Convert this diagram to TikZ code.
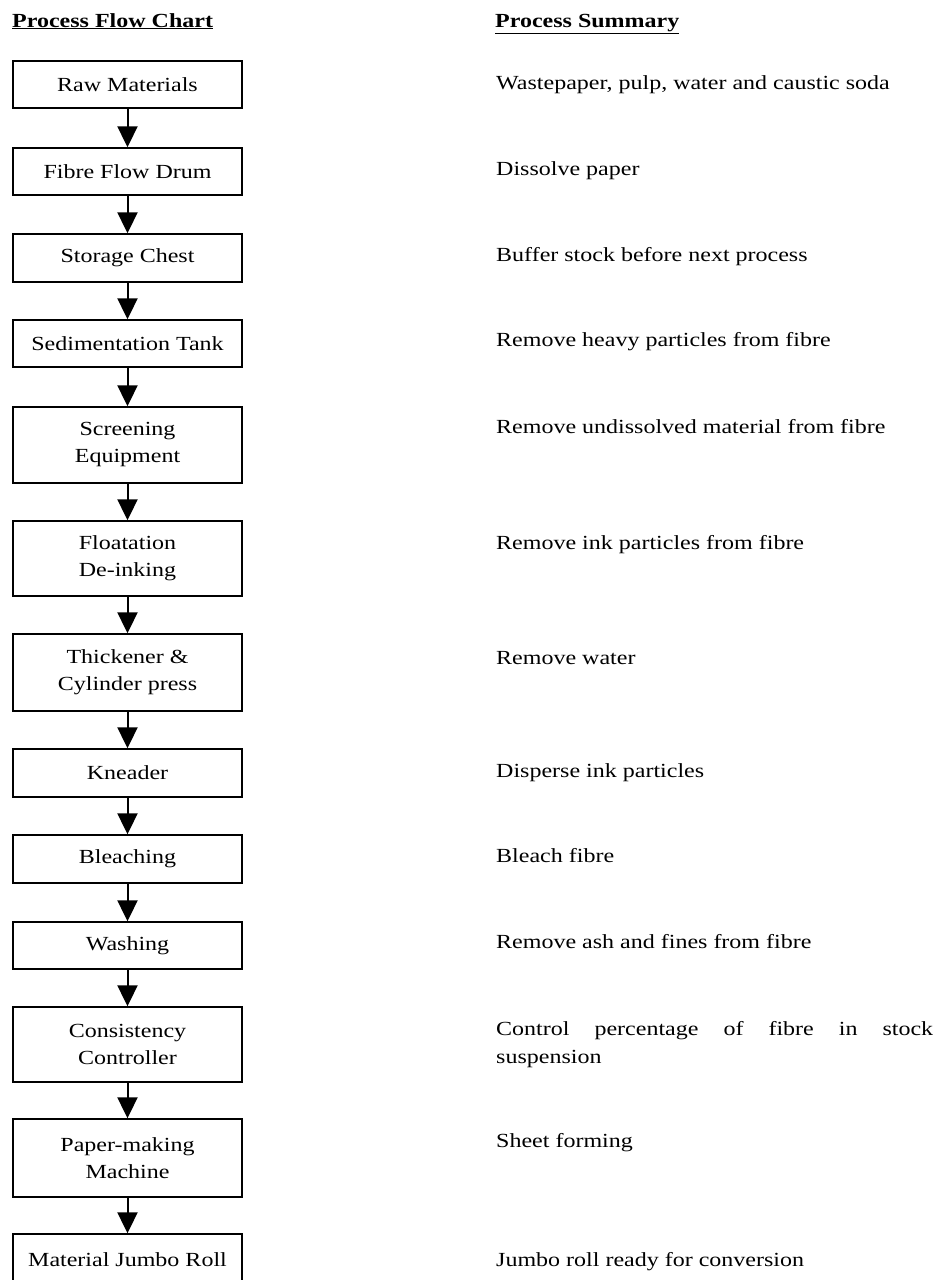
\documentclass[tikz,border=0pt]{standalone}
\usepackage{fontspec}
\setmainfont{Liberation Serif}[FakeStretch=1.2]
\usetikzlibrary{arrows.meta}
\tikzset{
  box/.style={draw=black, line width=1.4pt, minimum width=229pt, inner sep=2pt,
    align=center, font=\fontsize{20}{27}\selectfont},
  flow/.style={line width=2pt, -{Triangle[width=20pt,length=21pt]}},
  summ/.style={anchor=base west, inner sep=0pt, font=\fontsize{20}{28}\selectfont},
  ttl/.style={anchor=base west, inner sep=0pt, font=\fontsize{20}{24}\selectfont\bfseries}
}
\begin{document}
\begin{tikzpicture}[x=1pt,y=-1pt]
\useasboundingbox (0,0) rectangle (946,1280);
\node[ttl] (t1) at (12,27) {\underline{Process Flow Chart}};
\node[ttl] (t2) at (495,27) {\underline{Process Summary}};

\node[box, minimum height=47pt] (n1) at (127.5,84.5) {Raw Materials};
\node[box, minimum height=47pt] (n2) at (127.5,171.5) {Fibre Flow Drum};
\node[box, minimum height=48pt] (n3) at (127.5,258) {Storage Chest};
\node[box, minimum height=47pt] (n4) at (127.5,343.5) {Sedimentation Tank};
\node[box, minimum height=76pt] (n5) at (127.5,445) {Screening\\Equipment};
\node[box, minimum height=75pt] (n6) at (127.5,558.5) {Floatation\\De-inking};
\node[box, minimum height=77pt] (n7) at (127.5,672.5) {Thickener \&\\Cylinder press};
\node[box, minimum height=48pt] (n8) at (127.5,773) {Kneader};
\node[box, minimum height=48pt] (n9) at (127.5,859) {Bleaching};
\node[box, minimum height=47pt] (n10) at (127.5,945.5) {Washing};
\node[box, minimum height=75pt] (n11) at (127.5,1044.5) {Consistency\\Controller};
\node[box, minimum height=78pt] (n12) at (127.5,1158) {Paper-making\\Machine};
\node[box, minimum height=52pt] (n13) at (127.5,1260) {Material Jumbo Roll};

\foreach \a/\b in {n1/n2,n2/n3,n3/n4,n4/n5,n5/n6,n6/n7,n7/n8,n8/n9,n9/n10,n10/n11,n11/n12,n12/n13}
  \draw[flow] (\a.south) -- (\b.north);

\node[summ] (s1) at (496,89) {Wastepaper, pulp, water and caustic soda};
\node[summ] (s2) at (496,175) {Dissolve paper};
\node[summ] (s3) at (496,261) {Buffer stock before next process};
\node[summ] (s4) at (496,346) {Remove heavy particles from fibre};
\node[summ] (s5) at (496,433) {Remove undissolved material from fibre};
\node[summ] (s6) at (496,549) {Remove ink particles from fibre};
\node[summ] (s7) at (496,664) {Remove water};
\node[summ] (s8) at (496,777) {Disperse ink particles};
\node[summ] (s9) at (496,862) {Bleach fibre};
\node[summ] (s10) at (496,948) {Remove ash and fines from fibre};
\node[summ, text width=437pt, align=justify] (s11) at (496,1035) {\hyphenpenalty=10000 \tolerance=10000 Control percentage of fibre in stock\linebreak suspension};
\node[summ] (s12) at (496,1147) {Sheet forming};
\node[summ] (s13) at (496,1266) {Jumbo roll ready for conversion};
\end{tikzpicture}
\end{document}
